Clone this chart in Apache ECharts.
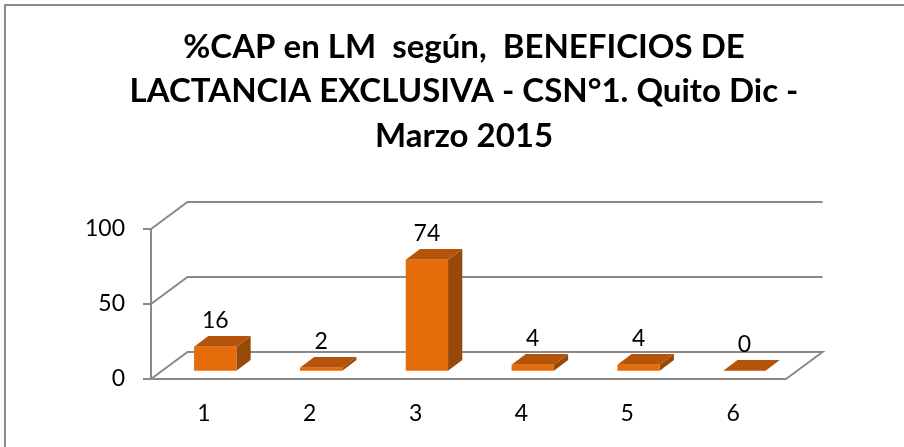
<!DOCTYPE html>
<html>
<head>
<meta charset="utf-8">
<script src="https://cdn.jsdelivr.net/npm/echarts@6/dist/echarts.min.js"></script>
<style>
  html, body { margin: 0; padding: 0; background: #fff; }
  #main { width: 904px; height: 447px; }
</style>
</head>
<body>
<div id="main"></div>
<script>
  // datos del grafico
  var categorias = ['1', '2', '3', '4', '5', '6']
  var valores = [16, 2, 74, 4, 4, 0]
  var ticksY = [0, 50, 100]
  var titulo = '%CAP en LM  según,  BENEFICIOS DE\nLACTANCIA EXCLUSIVA - CSN°1. Quito Dic -\nMarzo 2015'

  // profundidad del efecto 3D (px)
  var DX = 36.5
  var DY = -27
  var gris = '#898989'
  var fuente = 'Lato, "Open Sans", sans-serif'

  var myChart = echarts.init(document.getElementById('main'))

  // paredes: lineas de fondo y piso
  function renderParedes (params, api) {
    var v = api.value(1)
    var bandW = api.size([1, 0])[0]
    var p0 = api.coord([0, v])
    var p1 = api.coord([categorias.length - 1, v])
    var x0 = p0[0] - bandW / 2
    var x1 = p1[0] + bandW / 2
    var y = p0[1]
    var pts = [[x0, y], [x0 + DX, y + DY], [x1 + DX, y + DY]]
    if (v === 0) pts.push([x1, y])
    return {
      type: 'polyline',
      shape: { points: pts },
      style: { stroke: gris, lineWidth: 2, fill: null }
    }
  }

  // barras con cara frontal, superior y lateral
  function renderBarras (params, api) {
    var i = api.value(0)
    var v = api.value(1)
    var bandW = api.size([1, 0])[0]
    var top = api.coord([i, v])
    var base = api.coord([i, 0])
    var w = bandW * 0.4
    var fx = DX * 0.31
    var fy = DY * 0.31
    var bx = DX * 0.39
    var by = DY * 0.39
    var xl = top[0] - w / 2 + fx
    var xr = xl + w
    var yt = top[1] + fy
    var yb = base[1] + fy
    return {
      type: 'group',
      children: [
        {
          type: 'polygon',
          shape: { points: [[xr, yt], [xr + bx, yt + by], [xr + bx, yb + by], [xr, yb]] },
          style: { fill: '#984807' }
        },
        {
          type: 'polygon',
          shape: { points: [[xl, yt], [xl + bx, yt + by], [xr + bx, yt + by], [xr, yt]] },
          style: { fill: '#b45309' }
        },
        {
          type: 'rect',
          shape: { x: xl, y: yt, width: w, height: yb - yt },
          style: { fill: '#e46c0a' }
        },
        {
          type: 'text',
          style: {
            text: String(v),
            x: (xl + xr) / 2,
            y: yt + by - 16,
            align: 'center',
            verticalAlign: 'middle',
            fontSize: 23,
            fontFamily: fuente,
            fill: '#000'
          }
        }
      ]
    }
  }

  var option = {
    animation: false,
    title: {
      text: titulo,
      left: 459,
      top: 20,
      textAlign: 'center',
      textStyle: {
        fontSize: 33,
        fontWeight: 'bold',
        fontFamily: fuente,
        lineHeight: 44.5,
        color: '#000'
      }
    },
    graphic: [{
      type: 'rect',
      shape: { x: 5, y: 5, width: 920, height: 460 },
      style: { fill: null, stroke: '#8c8c8c', lineWidth: 2 }
    }],
    grid: {
      left: 151,
      right: 118,
      top: 229,
      bottom: 68
    },
    xAxis: {
      type: 'category',
      data: categorias,
      axisLine: { lineStyle: { color: gris, width: 2 } },
      axisTick: { length: 10, lineStyle: { color: gris, width: 2 } },
      axisLabel: { color: '#000', fontSize: 23, fontFamily: fuente, margin: 23 }
    },
    yAxis: {
      type: 'value',
      min: 0,
      max: 100,
      interval: 50,
      axisLine: { show: true, lineStyle: { color: gris, width: 2 } },
      axisTick: { show: true, length: 8, lineStyle: { color: gris, width: 2 } },
      splitLine: { show: false },
      axisLabel: { color: '#000', fontSize: 23, fontFamily: fuente, margin: 26 }
    },
    series: [
      {
        type: 'custom',
        renderItem: renderParedes,
        data: ticksY.map(function (t) { return [0, t] }),
        silent: true,
        z: 1
      },
      {
        type: 'custom',
        renderItem: renderBarras,
        data: valores.map(function (v, i) { return [i, v] }),
        z: 2
      }
    ]
  }
  myChart.setOption(option)
</script>
</body>
</html>
